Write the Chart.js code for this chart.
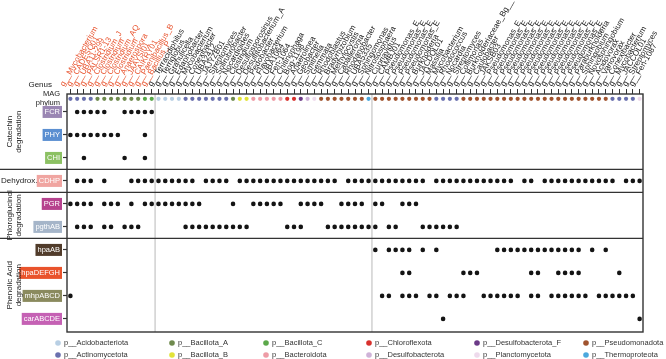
<!DOCTYPE html>
<html>
<head>
<meta charset="utf-8">
<script src="https://cdn.jsdelivr.net/npm/chart.js@4.4.0/dist/chart.umd.min.js"></script>
<style>
  html, body { margin: 0; padding: 0; background: #fff; }
  #wrap { width: 666px; height: 359px; }
</style>
</head>
<body>
<div id="wrap"><canvas id="chart"></canvas></div>
<script>
const FONT = '"Liberation Sans", Arial, sans-serif';

// genus of each MAG (x axis, top)
const genus = [
  'g__Mycobacterium', 'g__CADESQ01', 'g__UBA11-299', 'g__PALSR1-13', 'g__Clostridium_J',
  'g__Clostridium', 'g__Clostridium_AQ', 'g__Clostridium', 'g__Anaerospora', 'g__JAAYSI01',
  'g__CAIKRY01', 'g__Paenibacillus_B', 'g__Bacillus_P',
  'g__Terracidiphilus', 'g__Terriglobus', 'g__Granulicella', 'g__Edaphobacter', 'g__Mycobacterium',
  'g__Conexibacter', 'g__UBA2412', 'g__JAJYZB01', 'g__Streptomyces', 'g__Solirubrobacter',
  'g__Nocardioides', 'g__Clostridium', 'g__Desulfosporosinus', 'g__Desulfitobacterium_A', 'g__Pedobacter',
  'g__Flavobacterium', 'g__UBA1064', 'g__Fen-1064', 'g__Chitinophaga', 'g__Bog-1198',
  'g__Anaerolinea', 'g__Geobacter', 'g__Smithella', 'g__Gemmata', 'g__Rhodoblastus',
  'g__Bradyrhizobium', 'g__Methylocystis', 'g__Caballeronia', 'g__Rhodanobacter', 'g__UBA5335',
  'g__Sphingomonas', 'g__Nitrososphaera',
  'g__Cupriavidus', 'g__CAMBJ01', 'g__Pseudomonas_E', 'g__Pseudomonas_E', 'g__Pseudomonas_E',
  'g__Pseudomonas_E', 'g__Burkholderia', 'g__JACDOL01', 'g__Massilia', 'g__Mycobacterium',
  'g__Rhodococcus', 'g__Nocardia', 'g__Streptomyces', 'g__Collimonas', 'g__Burkholderiaceae_Bg__',
  'g__Caulobacter', 'g__JAKSB03', 'g__Pseudomonas_E', 'g__Pseudomonas_E', 'g__Pseudomonas_E',
  'g__Pseudomonas_E', 'g__Pseudomonas_E', 'g__Pseudomonas_E', 'g__Pseudomonas_E', 'g__Pseudomonas_E',
  'g__Pseudomonas_E', 'g__Pseudomonas_E', 'g__Pseudomonas_E', 'g__Pseudomonas_E', 'g__Pseudomonas_E',
  'g__Paraburkholderia', 'g__Sphingobium', 'g__Novosphingobium', 'g__Acidovorax', 'g__Variovorax',
  'g__Conexibacter', 'g__Mycobacterium', 'g__JACCOL01', 'g__Streptomyces', 'g__Fen-1087'
];
const groupSizes = [13, 32, 40];   // first group = highlighted genera (red labels)

// MAG phylum of each column
const phylum = [
  'Actinomycetota', 'Actinomycetota', 'Actinomycetota', 'Actinomycetota', 'Bacillota_A',
  'Bacillota_A', 'Bacillota_A', 'Bacillota_A', 'Bacillota_A', 'Bacillota_A',
  'Bacillota_A', 'Bacillota_C', 'Bacillota_C',
  'Acidobacteriota', 'Acidobacteriota', 'Acidobacteriota', 'Acidobacteriota', 'Actinomycetota',
  'Actinomycetota', 'Actinomycetota', 'Actinomycetota', 'Actinomycetota', 'Actinomycetota',
  'Actinomycetota', 'Bacillota_A', 'Bacillota_B', 'Bacillota_B', 'Bacteroidota',
  'Bacteroidota', 'Bacteroidota', 'Bacteroidota', 'Bacteroidota', 'Chloroflexota',
  'Chloroflexota', 'Desulfobacterota_F', 'Desulfobacterota', 'Planctomycetota', 'Pseudomonadota',
  'Pseudomonadota', 'Pseudomonadota', 'Pseudomonadota', 'Pseudomonadota', 'Pseudomonadota',
  'Pseudomonadota', 'Thermoproteota',
  'Pseudomonadota', 'Pseudomonadota', 'Pseudomonadota', 'Pseudomonadota', 'Pseudomonadota',
  'Pseudomonadota', 'Pseudomonadota', 'Pseudomonadota', 'Pseudomonadota', 'Actinomycetota',
  'Actinomycetota', 'Actinomycetota', 'Actinomycetota', 'Pseudomonadota', 'Pseudomonadota',
  'Pseudomonadota', 'Pseudomonadota', 'Pseudomonadota', 'Pseudomonadota', 'Pseudomonadota',
  'Pseudomonadota', 'Pseudomonadota', 'Pseudomonadota', 'Pseudomonadota', 'Pseudomonadota',
  'Pseudomonadota', 'Pseudomonadota', 'Pseudomonadota', 'Pseudomonadota', 'Pseudomonadota',
  'Pseudomonadota', 'Pseudomonadota', 'Pseudomonadota', 'Pseudomonadota', 'Pseudomonadota',
  'Actinomycetota', 'Actinomycetota', 'Actinomycetota', 'Actinomycetota', 'Planctomycetota'
];

const phylumColors = {
  Acidobacteriota: '#b8cfe4', Actinomycetota: '#6a70ae', Bacillota_A: '#6f8a4e',
  Bacillota_B: '#e2e338', Bacillota_C: '#5ba84a', Bacteroidota: '#ee9ca6',
  Chloroflexota: '#d8312d', Desulfobacterota: '#cfb3d8', Desulfobacterota_F: '#6b3a87',
  Planctomycetota: '#eedaec', Pseudomonadota: '#a0532e', Thermoproteota: '#4ba8dd'
};
const legendRows = [
  ['Acidobacteriota', 'Bacillota_A', 'Bacillota_C', 'Chloroflexota', 'Desulfobacterota_F', 'Pseudomonadota'],
  ['Actinomycetota', 'Bacillota_B', 'Bacteroidota', 'Desulfobacterota', 'Planctomycetota', 'Thermoproteota']
];

// genes (rows) and which MAG columns carry them
const genes = ['FCR', 'PHY', 'CHI', 'CDHP', 'PGR', 'pgthAB', 'hpaAB', 'hpaDEFGH', 'mhpABCD', 'carABCDE'];
const geneColors = ['#9a86b3', '#5b8fd1', '#8cc163', '#f0a5a1', '#b6428e', '#a5b5c9',
                    '#513c2b', '#e9532c', '#8a8a5e', '#c561b4'];
const fcr = [1, 2, 3, 4, 5, 8, 9, 10, 11, 12];
const phy = [0, 1, 2, 3, 4, 5, 6, 7, 11];
const chi = [2, 8, 11];
const cdhp = [1, 2, 3, 5, 9, 10, 11, 12, 13, 14, 15, 16, 17, 18, 20, 21, 22, 23, 25, 26, 27, 28, 29, 30,
              31, 32, 33, 34, 35, 36, 37, 38, 39, 41, 42, 43, 44, 45, 46, 47, 48, 49, 50, 51, 52, 54, 55,
              56, 57, 58, 59, 60, 61, 62, 63, 64, 65, 67, 68, 70, 71, 72, 73, 74, 75, 76, 77, 78, 79, 80,
              82, 83, 84];
const pgr = [0, 1, 2, 3, 5, 6, 7, 9, 11, 12, 13, 14, 15, 16, 17, 18, 19, 24, 27, 28, 29, 30, 31, 34, 35,
             36, 37, 40, 41, 42, 43, 45, 46, 49, 50, 51];
const pgthab = [1, 2, 3, 5, 6, 8, 9, 10, 17, 18, 19, 20, 21, 22, 23, 24, 25, 26, 32, 33, 34, 38, 39, 40,
                41, 42, 43, 44, 45, 47, 48, 52, 53, 54, 55, 56, 57];
const hpaab = [45, 47, 48, 49, 50, 52, 54, 63, 64, 65, 66, 67, 68, 69, 70, 71, 72, 73, 74, 75, 77, 79];
const hpadefgh = [49, 50, 58, 59, 60, 68, 69, 72, 73, 74, 75, 81];
const mhpabcd = [0, 46, 47, 49, 50, 51, 53, 54, 56, 57, 58, 61, 62, 63, 64, 65, 66, 68, 69, 71, 72, 73,
                 74, 75, 76, 78, 79, 80, 81, 82, 83];
const carabcde = [55, 84];
const geneHits = [fcr, phy, chi, cdhp, pgr, pgthab, hpaab, hpadefgh, mhpabcd, carabcde];

// pathway blocks on the left
const sections = [
  { name: ['Catechin', 'degradation'], from: 0, to: 2 },
  { name: ['Dehydrox.'], from: 3, to: 3 },
  { name: ['Phloroglucinol', 'degradation'], from: 4, to: 5 },
  { name: ['Phenolic Acid', 'degradation'], from: 6, to: 9 }
];

const PHYLUM_ROW = -0.57;

const datasets = [{
  data: genus.map((g, i) => ({ x: i, y: PHYLUM_ROW })),
  backgroundColor: phylum.map(p => phylumColors[p]),
  pointRadius: 2.1,
  borderWidth: 0
}];
geneHits.forEach((hits, r) => {
  datasets.push({
    data: hits.map(c => ({ x: c, y: r })),
    backgroundColor: '#141414',
    pointRadius: 2.3,
    borderWidth: 0
  });
});

const breaks = [];
groupSizes.reduce((acc, n) => { acc += n; breaks.push(acc - 0.5); return acc; }, 0);
breaks.pop();

const decor = {
  id: 'decor',
  beforeDatasetsDraw(chart) {
    const { ctx, chartArea: a, scales: { x } } = chart;
    ctx.save();
    ctx.strokeStyle = '#d0d0d0';
    ctx.lineWidth = 1.5;
    breaks.forEach(b => {
      const px = x.getPixelForValue(b);
      ctx.beginPath(); ctx.moveTo(px, a.top); ctx.lineTo(px, a.bottom); ctx.stroke();
    });
    ctx.restore();
  },
  afterDraw(chart) {
    const { ctx, chartArea: a, scales: { y } } = chart;
    ctx.save();
    // separators between pathway blocks
    ctx.strokeStyle = '#333';
    ctx.lineWidth = 1.4;
    sections.slice(0, -1).forEach(s => {
      const py = y.getPixelForValue(s.to + 0.5);
      ctx.beginPath(); ctx.moveTo(0, py); ctx.lineTo(a.right, py); ctx.stroke();
    });
    ctx.strokeRect(a.left, a.top, a.right - a.left, a.bottom - a.top);

    // block names
    ctx.fillStyle = '#222';
    ctx.font = '8px ' + FONT;
    ctx.textBaseline = 'middle';
    sections.forEach(s => {
      if (s.name.length === 1) {
        ctx.textAlign = 'left';
        ctx.fillText(s.name[0], 1, y.getPixelForValue(s.from));
        return;
      }
      const top = s.from === 0 ? a.top : y.getPixelForValue(s.from - 0.5);
      const bot = s.to === genes.length - 1 ? a.bottom : y.getPixelForValue(s.to + 0.5);
      ctx.save();
      ctx.translate(10, (top + bot) / 2);
      ctx.rotate(-Math.PI / 2);
      ctx.textAlign = 'center';
      ctx.fillText(s.name[0], 0, 0);
      ctx.fillText(s.name[1], 0, 9);
      ctx.restore();
    });
    ctx.textAlign = 'right';
    ctx.fillText('Genus', 52, 85);

    // phylum legend
    const colX = [58, 172, 266, 369, 477, 586];
    const rowY = [343, 355];
    ctx.font = '7.5px ' + FONT;
    ctx.textAlign = 'left';
    legendRows.forEach((row, ri) => {
      row.forEach((p, ci) => {
        ctx.fillStyle = phylumColors[p];
        ctx.beginPath(); ctx.arc(colX[ci], rowY[ri], 2.8, 0, Math.PI * 2); ctx.fill();
        ctx.fillStyle = '#333';
        ctx.fillText('p__' + p, colX[ci] + 6, rowY[ri]);
      });
    });
    ctx.restore();
  }
};

new Chart(document.getElementById('chart'), {
  type: 'scatter',
  data: { datasets },
  options: {
    responsive: true,
    maintainAspectRatio: false,
    animation: false,
    layout: { padding: { top: 0, left: 0, right: 23, bottom: 27 } },
    plugins: { legend: { display: false }, tooltip: { enabled: false } },
    scales: {
      x: {
        type: 'linear',
        position: 'top',
        min: -0.5,
        max: genus.length - 0.5,
        afterBuildTicks: axis => { axis.ticks = genus.map((g, i) => ({ value: i })); },
        afterFit: axis => { axis.height = 94; },
        border: { display: false },
        grid: { drawOnChartArea: false, tickLength: 5, color: '#333', tickWidth: 1 },
        ticks: {
          autoSkip: false,
          minRotation: 60,
          maxRotation: 60,
          padding: 1,
          font: { size: 8, family: FONT },
          color: c => c.index < groupSizes[0] ? '#e8542f' : '#222',
          callback: (v, i) => genus[i]
        }
      },
      y: {
        type: 'linear',
        reverse: true,
        min: -0.78,
        max: genes.length - 0.43,
        afterBuildTicks: axis => { axis.ticks = [PHYLUM_ROW].concat(genes.map((g, i) => i)).map(v => ({ value: v })); },
        afterFit: axis => { axis.width = 67; },
        border: { display: false },
        grid: {
          drawOnChartArea: false, tickLength: 4, tickWidth: 1.2,
          color: c => c.index === 0 ? 'rgba(0,0,0,0)' : '#333'
        },
        ticks: {
          autoSkip: false,
          padding: 3,
          font: { size: 7.5, family: FONT },
          color: c => c.index === 0 ? '#222' : '#fff',
          showLabelBackdrop: c => c.index > 0,
          backdropColor: c => c.index > 0 ? geneColors[c.index - 1] : 'rgba(0,0,0,0)',
          backdropPadding: { x: 2, y: 1.5 },
          callback: (v, i) => i === 0 ? ['MAG', 'phylum'] : genes[i - 1]
        }
      }
    }
  },
  plugins: [decor]
});
</script>
</body>
</html>
